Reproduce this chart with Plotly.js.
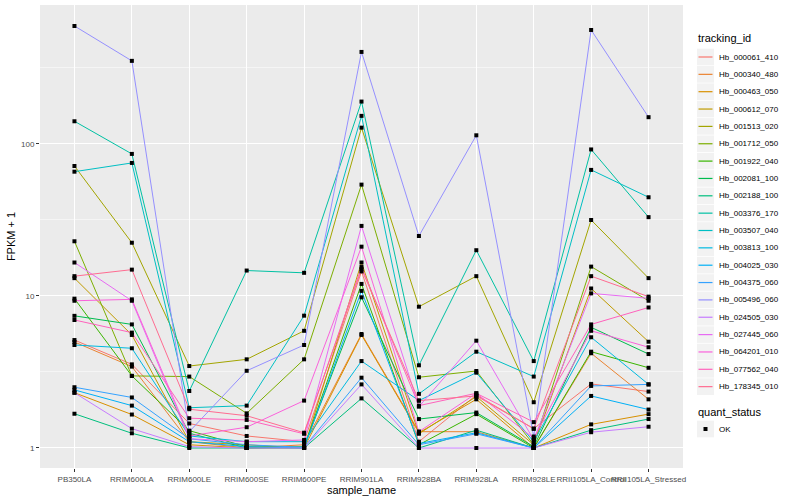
<!DOCTYPE html>
<html>
<head>
<meta charset="utf-8">
<script src="https://cdn.plot.ly/plotly-3.0.1.min.js"></script>
<style>html,body{margin:0;padding:0;background:#fff}#chart{width:800px;height:500px}</style>
</head>
<body>
<div id="chart"></div>
<script>
// ---- data (FPKM + 1) ----
const samples = ["PB350LA","RRIM600LA","RRIM600LE","RRIM600SE","RRIM600PE","RRIM901LA","RRIM928BA","RRIM928LA","RRIM928LE","RRII105LA_Control","RRII105LA_Stressed"];
const trackingIds = ["Hb_000061_410","Hb_000340_480","Hb_000463_050","Hb_000612_070","Hb_001513_020","Hb_001712_050","Hb_001922_040","Hb_002081_100","Hb_002188_100","Hb_003376_170","Hb_003507_040","Hb_003813_100","Hb_004025_030","Hb_004375_060","Hb_005496_060","Hb_024505_030","Hb_027445_060","Hb_064201_010","Hb_077562_040","Hb_178345_010"];
const Hb_000061_410 = [5.13, 3.55, 1.45, 1.2, 1.1, 14.5, 1.1, 2.23, 1.34, 2.64, 2.35];
const Hb_000340_480 = [4.98, 3.43, 1.1, 1.0, 1.05, 5.62, 1.28, 1.28, 1.0, 4.2, 2.09];
const Hb_000463_050 = [2.31, 1.66, 1.05, 1.0, 1.0, 5.54, 1.26, 2.09, 1.0, 1.43, 1.67];
const Hb_000612_070 = [13.1, 5.54, 1.1, 1.05, 1.0, 16.6, 1.24, 2.18, 1.05, 11.2, 5.0];
const Hb_001513_020 = [71.6, 22.4, 3.46, 3.83, 5.9, 128, 8.5, 13.5, 2.0, 31.6, 13.1];
const Hb_001712_050 = [22.9, 2.98, 2.95, 1.69, 3.83, 54, 2.92, 3.21, 1.05, 15.6, 9.3];
const Hb_001922_040 = [9.6, 2.98, 1.3, 1.02, 1.01, 12.0, 1.05, 1.67, 1.0, 4.3, 3.37];
const Hb_002081_100 = [7.4, 6.5, 1.25, 1.0, 1.02, 9.8, 1.55, 1.71, 1.02, 6.22, 4.15];
const Hb_002188_100 = [1.68, 1.25, 1.0, 1.0, 1.0, 2.12, 1.0, 1.31, 1.0, 1.31, 1.55];
const Hb_003376_170 = [141, 86, 2.37, 14.7, 14.2, 190, 3.5, 20, 3.73, 92, 33];
const Hb_003507_040 = [65.7, 75, 1.84, 1.9, 7.42, 153, 2.27, 4.3, 2.95, 67.5, 44.6];
const Hb_003813_100 = [4.76, 4.53, 1.2, 1.1, 1.1, 3.73, 2.05, 3.13, 1.1, 5.35, 2.62];
const Hb_004025_030 = [2.41, 1.9, 1.1, 1.02, 1.0, 10.8, 1.07, 1.26, 1.0, 2.2, 1.79];
const Hb_004375_060 = [2.51, 2.15, 1.15, 1.05, 1.01, 2.9, 1.05, 1.24, 1.0, 2.56, 2.62];
const Hb_005496_060 = [597, 352, 1.28, 3.22, 4.76, 403, 24.8, 114, 1.19, 562, 150];
const Hb_024505_030 = [2.31, 1.34, 1.02, 1.0, 1.0, 2.62, 1.0, 1.0, 1.0, 1.27, 1.38];
const Hb_027445_060 = [16.6, 9.3, 1.15, 1.1, 1.13, 28.9, 1.87, 5.08, 1.13, 10.4, 9.65];
const Hb_064201_010 = [9.3, 9.5, 1.2, 1.37, 2.05, 21.1, 1.28, 2.29, 1.16, 5.9, 4.6];
const Hb_077562_040 = [6.95, 5.74, 1.57, 1.53, 1.24, 15.5, 1.9, 2.29, 1.48, 6.5, 8.4];
const Hb_178345_010 = [13.5, 14.9, 1.80, 1.63, 1.26, 15.0, 2.05, 2.2, 1.34, 13.5, 9.9];
const seriesValues = [Hb_000061_410,Hb_000340_480,Hb_000463_050,Hb_000612_070,Hb_001513_020,Hb_001712_050,Hb_001922_040,Hb_002081_100,Hb_002188_100,Hb_003376_170,Hb_003507_040,Hb_003813_100,Hb_004025_030,Hb_004375_060,Hb_005496_060,Hb_024505_030,Hb_027445_060,Hb_064201_010,Hb_077562_040,Hb_178345_010];
const quantStatus = ["OK"];
const yTickVals = [1, 10, 100];
const yTickText = ["1", "10", "100"];

// ggplot2 default hue palette for 20 levels
const colors = ["#F8766D","#EA8331","#D89000","#C09B00","#A3A500","#7CAE00","#39B600","#00BB4E","#00BF7D","#00C1A3","#00BFC4","#00BAE0","#00B0F6","#35A2FF","#9590FF","#C77CFF","#E76BF3","#FA62DB","#FF62BC","#FF6C91"];

const FONT = "Liberation Sans, Arial, Helvetica, sans-serif";
const W = 800, H = 500, ML = 40, MR = 117, MT = 5, MB = 32;
const PW = W - ML - MR, PH = H - MT - MB;
const PX = p => (p - ML) / PW;          // pixel -> paper x
const PY = p => (H - MB - p) / PH;      // pixel -> paper y

const traces = trackingIds.map((id, i) => ({
  type: "scatter", mode: "lines", name: id,
  x: samples, y: seriesValues[i],
  line: {color: colors[i], width: 1},
  showlegend: false, hoverinfo: "x+y+name"
}));
// points (quant_status = OK)
const px = [], py = [];
seriesValues.forEach(v => v.forEach((val, j) => { px.push(samples[j]); py.push(val); }));
traces.push({
  type: "scatter", mode: "markers", name: quantStatus[0], x: px, y: py,
  marker: {symbol: "square", size: 4, color: "black"},
  showlegend: false
});

// ---- ggplot-style legend, drawn in paper coordinates ----
const shapes = [], annotations = [];
const keyL = 697, keyR = 714, textX = 717;
annotations.push({xref: "paper", yref: "paper", x: PX(keyL - 1), y: PY(38), text: "tracking_id",
  showarrow: false, xanchor: "left", yanchor: "middle", font: {size: 11, family: FONT, color: "#000"}});
trackingIds.forEach((id, i) => {
  const yc = 57 + i * 17.35;
  shapes.push({type: "rect", xref: "paper", yref: "paper", x0: PX(keyL), x1: PX(keyR), y0: PY(yc - 8.3), y1: PY(yc + 8.3),
    fillcolor: "#F2F2F2", line: {width: 0}, layer: "above"});
  shapes.push({type: "line", xref: "paper", yref: "paper", x0: PX(keyL + 1.5), x1: PX(keyR - 1.5), y0: PY(yc), y1: PY(yc),
    line: {color: colors[i], width: 1.2}, layer: "above"});
  annotations.push({xref: "paper", yref: "paper", x: PX(textX), y: PY(yc), text: id, showarrow: false,
    xanchor: "left", yanchor: "middle", font: {size: 8, family: FONT, color: "#000"}});
});
annotations.push({xref: "paper", yref: "paper", x: PX(keyL - 1), y: PY(412), text: "quant_status",
  showarrow: false, xanchor: "left", yanchor: "middle", font: {size: 11, family: FONT, color: "#000"}});
shapes.push({type: "rect", xref: "paper", yref: "paper", x0: PX(keyL), x1: PX(keyR), y0: PY(429 - 8.3), y1: PY(429 + 8.3),
  fillcolor: "#F2F2F2", line: {width: 0}, layer: "above"});
shapes.push({type: "rect", xref: "paper", yref: "paper", x0: PX(703.5), x1: PX(707.5), y0: PY(427), y1: PY(431),
  fillcolor: "black", line: {width: 0}, layer: "above"});
annotations.push({xref: "paper", yref: "paper", x: PX(textX), y: PY(429), text: quantStatus[0], showarrow: false,
  xanchor: "left", yanchor: "middle", font: {size: 8, family: FONT, color: "#000"}});

const layout = {
  width: W, height: H,
  margin: {l: ML, r: MR, t: MT, b: MB},
  paper_bgcolor: "white", plot_bgcolor: "#EBEBEB",
  font: {family: FONT, color: "#000"},
  showlegend: false,
  xaxis: {
    type: "category", categoryorder: "array", categoryarray: samples,
    range: [-0.6, samples.length - 0.4],
    showgrid: true, gridcolor: "white", gridwidth: 1,
    zeroline: false, showline: false,
    ticks: "outside", ticklen: 3, tickcolor: "#333333", tickwidth: 1,
    tickfont: {size: 8, color: "#4D4D4D", family: FONT},
    tickangle: 0,
    title: {text: "sample_name", font: {size: 11, color: "#000", family: FONT}, standoff: 2},
    automargin: false
  },
  yaxis: {
    type: "log", range: [-0.1316, 2.914],
    tickmode: "array", tickvals: yTickVals, ticktext: yTickText,
    showgrid: true, gridcolor: "white", gridwidth: 1,
    minor: {tickmode: "array", tickvals: [3.1623, 31.623, 316.23], showgrid: true, gridcolor: "white", gridwidth: 0.5, ticklen: 0},
    zeroline: false, showline: false,
    ticks: "outside", ticklen: 3, tickcolor: "#333333", tickwidth: 1,
    tickfont: {size: 8, color: "#4D4D4D", family: FONT},
    title: {text: "FPKM + 1", font: {size: 11, color: "#000", family: FONT}, standoff: 3},
    automargin: false
  },
  shapes: shapes,
  annotations: annotations
};
Plotly.newPlot("chart", traces, layout, {displayModeBar: false, staticPlot: true});
</script>
</body>
</html>
